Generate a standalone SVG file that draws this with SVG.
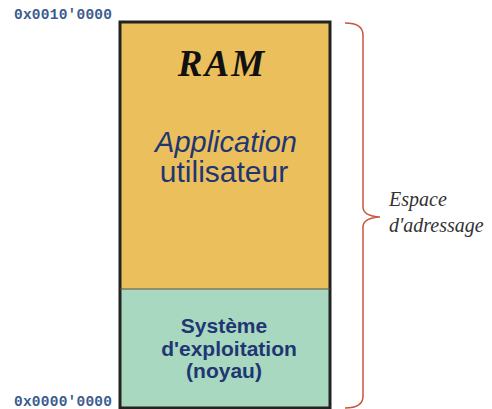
<svg xmlns="http://www.w3.org/2000/svg" width="492" height="409" viewBox="0 0 492 409">
  <style>
    .addr { font-family: "Liberation Mono", "DejaVu Sans Mono", monospace; font-weight: bold; font-size: 14.5px; fill: #3b5b8f; }
    .seg { stroke: #222; stroke-width: 3; }
    .sans { font-family: "Liberation Sans", Arial, sans-serif; fill: #1f3673; text-anchor: middle; }
    .note { font-family: "Liberation Serif", "Times New Roman", serif; font-style: italic; font-size: 20px; fill: #333; }
  </style>
  <rect width="492" height="409" fill="#ffffff"/>

  <!-- address labels -->
  <text class="addr" x="14" y="19" textLength="98">0x0010'0000</text>
  <text class="addr" x="14" y="406" textLength="98">0x0000'0000</text>

  <!-- user application region -->
  <g id="application">
    <rect x="120" y="22" width="210" height="267" fill="#ebc05c"/>
    <text x="222" y="76" font-family="Liberation Serif, 'Times New Roman', serif" font-weight="bold" font-style="italic" font-size="37" fill="#111" text-anchor="middle" letter-spacing="2">RAM</text>
    <text class="sans" x="226" y="152" font-size="29" font-style="italic">Application</text>
    <text class="sans" x="224" y="182" font-size="30">utilisateur</text>
  </g>

  <!-- kernel region -->
  <g id="kernel">
    <rect x="120" y="289" width="210" height="118" fill="#a8d8bf"/>
    <text class="sans" x="224" y="333" font-size="21" font-weight="bold">Système</text>
    <text class="sans" x="229" y="356" font-size="21" font-weight="bold">d'exploitation</text>
    <text class="sans" x="224" y="378" font-size="21" font-weight="bold">(noyau)</text>
  </g>

  <!-- outlines -->
  <g id="connectors" fill="none">
    <rect class="seg" x="120" y="22" width="210" height="386"/>
    <line x1="120" y1="289" x2="330" y2="289" stroke="#555" stroke-width="1"/>
    <path d="M345,23 Q363,23 363,35 L363,207 Q363,216 380,217 Q363,218 363,227 L363,396 Q363,408 345,408" stroke="#c8553d" stroke-width="1.5"/>
  </g>

  <g id="address-space">
    <text class="note" x="389" y="206">Espace</text>
    <text class="note" x="389" y="232">d'adressage</text>
  </g>
</svg>
